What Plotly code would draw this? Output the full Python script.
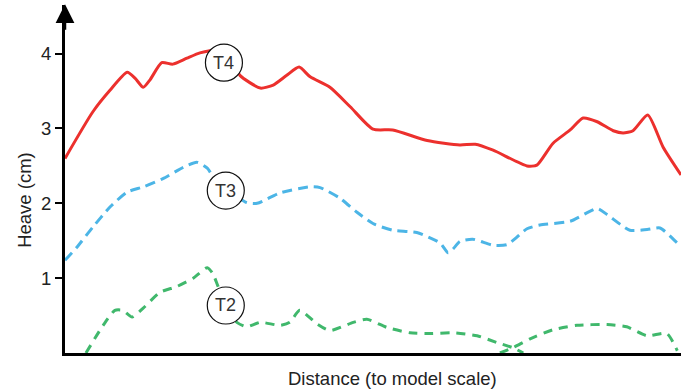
import plotly.graph_objects as go

# Distance along model (0-100 arbitrary model-scale units), heave in cm
t4_x = [0.0, 4.5, 7.3, 10.1, 11.4, 12.7, 13.8, 15.7, 17.5, 19.8, 21.9, 23.5, 25.5, 27.1, 28.4,
        31.7, 33.8, 36.0, 38.0, 39.8, 43.0, 46.3, 50.0, 53.2, 58.8, 64.1, 66.6, 69.5, 75.0,
        76.6, 79.2, 82.0, 84.1, 86.4, 89.0, 90.6, 92.2, 94.6, 97.1, 100.0]
t4_y = [2.60, 3.22, 3.51, 3.75, 3.67, 3.55, 3.65, 3.88, 3.86, 3.94, 4.01, 4.04, 4.05, 3.90, 3.71,
        3.54, 3.58, 3.71, 3.82, 3.69, 3.55, 3.29, 2.99, 2.98, 2.84, 2.78, 2.79, 2.71, 2.50,
        2.51, 2.80, 2.98, 3.14, 3.09, 2.97, 2.94, 2.97, 3.18, 2.75, 2.38]

t3_x = [0.0, 1.9, 4.5, 7.3, 10.1, 12.7, 15.9, 19.2, 21.4, 23.1, 24.5, 29.5, 31.2, 34.9, 39.8,
        41.4, 44.6, 47.4, 50.0, 53.2, 57.1, 60.9, 62.2, 63.0, 64.1, 66.2, 69.5, 71.8, 75.0,
        77.1, 82.0, 86.4, 88.0, 91.7, 94.5, 96.6, 99.4, 100.0]
t3_y = [1.24, 1.41, 1.68, 1.95, 2.15, 2.22, 2.33, 2.48, 2.55, 2.47, 2.30, 2.01, 2.00, 2.14, 2.22,
        2.21, 2.07, 1.88, 1.73, 1.64, 1.61, 1.47, 1.34, 1.39, 1.49, 1.52, 1.44, 1.45, 1.66,
        1.71, 1.76, 1.93, 1.85, 1.64, 1.65, 1.67, 1.47, 1.43]

t2a_x = [3.4, 6.2, 8.1, 9.4, 10.9, 12.7, 15.4, 18.2, 20.8, 23.1, 24.0, 24.8, 26.5, 27.9, 29.5,
         31.7, 34.9, 36.5, 38.1, 40.9, 43.0, 46.8, 49.0, 52.3, 56.0, 59.3, 63.0, 66.9, 70.1,
         72.7, 74.4]
t2a_y = [0.00, 0.37, 0.57, 0.57, 0.48, 0.60, 0.81, 0.89, 1.00, 1.14, 1.06, 0.90, 0.55, 0.41, 0.35,
         0.41, 0.37, 0.41, 0.57, 0.39, 0.30, 0.41, 0.45, 0.34, 0.27, 0.26, 0.27, 0.23, 0.14,
         0.07, 0.00]
t2b_x = [70.6, 72.7, 75.5, 79.2, 83.1, 88.0, 91.2, 94.5, 97.7, 99.4]
t2b_y = [0.00, 0.07, 0.19, 0.31, 0.37, 0.38, 0.35, 0.23, 0.26, 0.03]

y_ticks = [1, 2, 3, 4]
labels = ["T4", "T3", "T2"]
label_x = [25.8, 26.1, 26.1]
label_y = [3.88, 2.17, 0.635]
x_title = "Distance (to model scale)"
y_title = "Heave (cm)"

RED = "#ec302d"
BLUE = "#4cb5e6"
GREEN = "#40b86c"
FONT = "Liberation Sans"
TXT = "#222222"

fig = go.Figure()
fig.add_trace(go.Scatter(x=t4_x, y=t4_y, mode="lines",
                         line=dict(color=RED, width=3, shape="spline", smoothing=0.6)))
fig.add_trace(go.Scatter(x=t3_x, y=t3_y, mode="lines",
                         line=dict(color=BLUE, width=3, dash="10px,6px", shape="spline", smoothing=0.6)))
fig.add_trace(go.Scatter(x=t2a_x, y=t2a_y, mode="lines",
                         line=dict(color=GREEN, width=3, dash="9px,7px", shape="spline", smoothing=0.6)))
fig.add_trace(go.Scatter(x=t2b_x, y=t2b_y, mode="lines",
                         line=dict(color=GREEN, width=3, dash="9px,7px", shape="spline", smoothing=0.6)))

for name, lx, ly in zip(labels, label_x, label_y):
    fig.add_shape(type="circle", xref="x", yref="y", xsizemode="pixel", ysizemode="pixel",
                  xanchor=lx, yanchor=ly, x0=-18.5, x1=18.5, y0=-18.5, y1=18.5,
                  line=dict(color="#111111", width=1.2), fillcolor="white", layer="above")
    fig.add_annotation(x=lx, y=ly, xref="x", yref="y", text=name, showarrow=False,
                       font=dict(family=FONT, size=18, color="#333333"))

# arrow on y axis
fig.add_annotation(x=0, y=4.66, xref="x", yref="y", ax=0, ay=4.3, axref="x", ayref="y",
                   showarrow=True, arrowhead=2, arrowsize=1.5, arrowwidth=2.5,
                   arrowcolor="black", text="")

# axis titles (offset like the reference)
fig.add_annotation(x=0.532, y=-0.072, xref="paper", yref="paper", text=x_title,
                   showarrow=False, xanchor="center", yanchor="middle",
                   font=dict(family=FONT, size=18.5, color=TXT))
fig.add_annotation(x=-0.065, y=0.44, xref="paper", yref="paper", text=y_title,
                   showarrow=False, textangle=-90, xanchor="center", yanchor="middle",
                   font=dict(family=FONT, size=18.5, color=TXT))

fig.update_layout(
    width=681, height=392,
    margin=dict(l=65, r=0, t=5, b=39),
    paper_bgcolor="white", plot_bgcolor="white",
    showlegend=False,
    font=dict(family=FONT, size=18, color=TXT),
    xaxis=dict(range=[0, 100], showgrid=False, zeroline=False, showticklabels=False,
               ticks="", showline=True, linecolor="black", linewidth=3),
    yaxis=dict(range=[0, 4.65], showgrid=False, zeroline=False, tickvals=y_ticks,
               ticks="outside", ticklen=7, tickwidth=2, tickcolor="black",
               showline=True, linecolor="black", linewidth=3,
               tickfont=dict(family=FONT, size=18.5, color=TXT)),
)

fig.write_html("out.html")
